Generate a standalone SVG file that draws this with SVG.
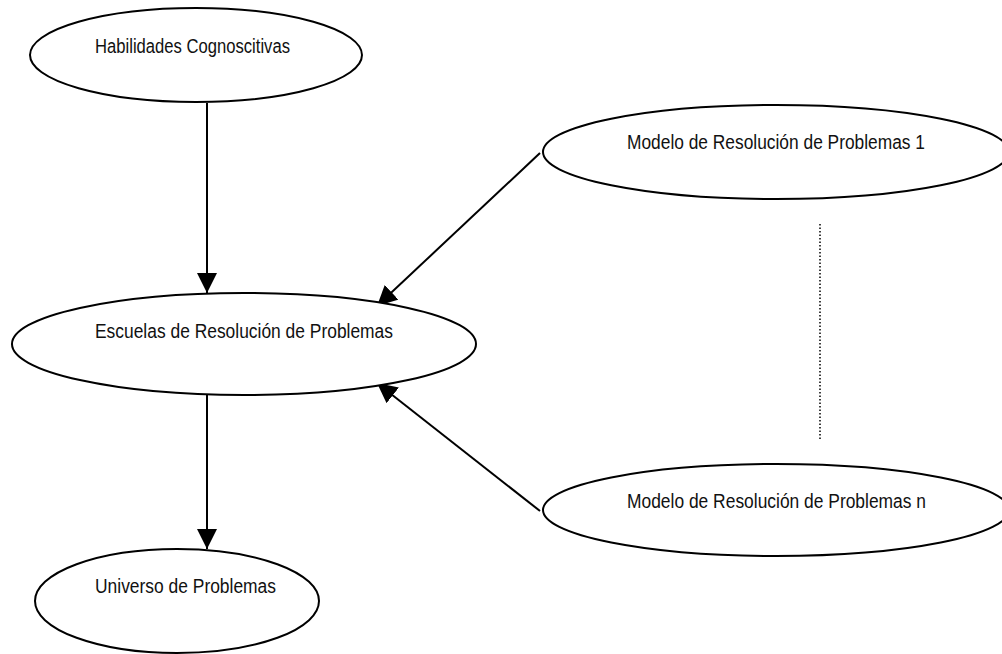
<svg xmlns="http://www.w3.org/2000/svg" width="1002" height="654" viewBox="0 0 1002 654">
<style>
.node ellipse{fill:#fff;stroke:#000;stroke-width:2}
.node text{font-family:"Liberation Sans Narrow","Liberation Sans",Arial,sans-serif;font-size:20px;fill:#111}
.edge{stroke:#000;stroke-width:2;fill:none}
.dotted{stroke:#000;stroke-width:1.5;stroke-dasharray:1.5 2;fill:none}
</style>
<defs>
<marker id="arrow" viewBox="0 0 20 20" refX="20" refY="10" markerWidth="20" markerHeight="20" markerUnits="userSpaceOnUse" orient="auto">
<path d="M0,0 L20,10 L0,20 Z" fill="#000"/>
</marker>
</defs>
<g id="connectors">
<line class="edge" x1="207" y1="103" x2="207" y2="293" marker-end="url(#arrow)"/>
<line class="edge" x1="540" y1="153" x2="377" y2="306" marker-end="url(#arrow)"/>
<line class="edge" x1="540" y1="511" x2="377" y2="383" marker-end="url(#arrow)"/>
<line class="edge" x1="207" y1="395" x2="207" y2="549" marker-end="url(#arrow)"/>
<line class="dotted" x1="820" y1="224" x2="820" y2="440"/>
</g>
<g id="habilidades" class="node">
<ellipse cx="196" cy="55" rx="166" ry="47"/>
<text x="95" y="53" textLength="195" lengthAdjust="spacingAndGlyphs">Habilidades Cognoscitivas</text>
</g>
<g id="escuelas" class="node">
<ellipse cx="244" cy="344" rx="232" ry="51"/>
<text x="95" y="338" textLength="298" lengthAdjust="spacingAndGlyphs">Escuelas de Resolución de Problemas</text>
</g>
<g id="modelo1" class="node">
<ellipse cx="776" cy="152" rx="233" ry="47"/>
<text x="627" y="149" textLength="298" lengthAdjust="spacingAndGlyphs">Modelo de Resolución de Problemas 1</text>
</g>
<g id="modelon" class="node">
<ellipse cx="776" cy="510" rx="233" ry="46"/>
<text x="627" y="508" textLength="299" lengthAdjust="spacingAndGlyphs">Modelo de Resolución de Problemas n</text>
</g>
<g id="universo" class="node">
<ellipse cx="177" cy="601" rx="142" ry="52"/>
<text x="95" y="593" textLength="181" lengthAdjust="spacingAndGlyphs">Universo de Problemas</text>
</g>
</svg>
